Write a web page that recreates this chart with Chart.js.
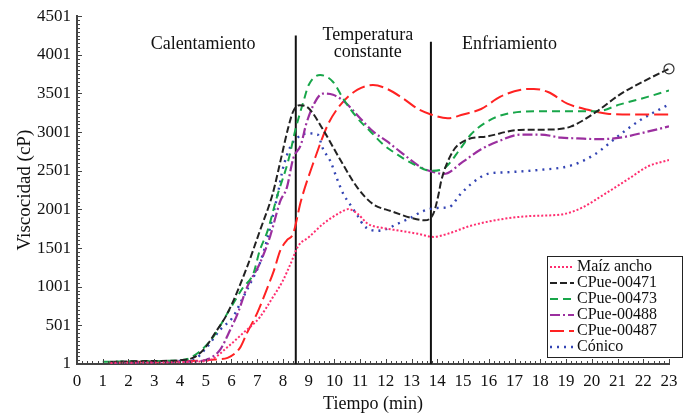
<!DOCTYPE html>
<html lang="es">
<head>
    <meta charset="UTF-8">
    <title>Viscocidad vs tiempo</title>
    <script src="https://cdn.jsdelivr.net/npm/chart.js"></script>
    <style>
        body {
            margin: 0;
            background: #fff;
        }

        .chart-box {
            width: 688px;
            height: 419px;
        }
    </style>
</head>
<body>
    <div class="chart-box">
        <canvas id="viscChart"></canvas>
    </div>

    <script>
        // valores (tiempo en min, viscosidad en cP)
        const seriesNames = ['Maíz ancho', 'CPue-00471', 'CPue-00473', 'CPue-00488', 'CPue-00487', 'Cónico'];

        const tMaiz = [1.3, 2, 3, 4, 4.6, 5.2, 5.85, 6.45, 7.1, 7.6, 8.0, 8.3, 8.6, 9.0, 9.55, 10.2, 10.55, 10.9, 11.3, 11.9, 12.55, 13.25, 13.85, 14.4, 15.3, 16.6, 17.6, 18.9, 19.6, 20.5, 21.4, 22.2, 23.0];
        const vMaiz = [15, 18, 20, 25, 30, 55, 220, 400, 605, 860, 1080, 1300, 1530, 1640, 1810, 1955, 2005, 1945, 1815, 1760, 1725, 1685, 1645, 1685, 1790, 1880, 1915, 1940, 2020, 2200, 2390, 2560, 2640];

        const t471 = [1.3, 2, 3, 4, 4.5, 4.9, 5.4, 5.85, 6.6, 7.1, 7.6, 7.9, 8.2, 8.4, 8.65, 9.0, 9.6, 10.2, 10.9, 11.5, 12.2, 13.0, 13.5, 13.85, 14.05, 14.15, 14.6, 15.0, 16.0, 17.2, 18.5, 19.2, 20.2, 21.1, 22.2, 23.0];
        const v471 = [30, 35, 40, 50, 80, 180, 420, 660, 1250, 1720, 2200, 2620, 3050, 3270, 3350, 3310, 3010, 2660, 2280, 2070, 1980, 1890, 1860, 1950, 2200, 2370, 2750, 2880, 2950, 3030, 3035, 3075, 3270, 3490, 3690, 3820];

        const t473 = [1.0, 2, 3, 4, 4.4, 5.2, 5.85, 6.45, 6.85, 7.1, 7.4, 7.8, 8.2, 8.5, 8.8, 9.0, 9.45, 9.95, 10.35, 10.9, 11.4, 11.9, 12.45, 13.05, 13.75, 14.25, 14.9, 15.3, 15.95, 16.6, 17.9, 19.2, 20.2, 21.1, 22.2, 23.0];
        const v473 = [30, 35, 40, 50, 80, 310, 660, 990, 1170, 1470, 1720, 2200, 2620, 3050, 3400, 3610, 3740, 3650, 3430, 3180, 3010, 2840, 2710, 2590, 2500, 2530, 2790, 2970, 3140, 3230, 3270, 3270, 3270, 3360, 3460, 3540];

        const t488 = [1.3, 2, 3, 4, 4.6, 5.05, 5.55, 5.95, 6.25, 6.6, 7.1, 7.5, 7.9, 8.15, 8.4, 8.7, 8.9, 9.2, 9.55, 9.95, 10.5, 11.0, 11.5, 12.05, 12.55, 13.45, 13.75, 14.25, 15.0, 15.7, 16.35, 17.25, 18.0, 18.8, 19.45, 20.25, 21.1, 22.2, 23.0];
        const v488 = [20, 22, 25, 30, 35, 60, 180, 440, 660, 990, 1300, 1650, 2110, 2280, 2660, 2840, 3100, 3360, 3500, 3485, 3360, 3180, 3010, 2880, 2750, 2530, 2495, 2460, 2620, 2780, 2880, 2970, 2970, 2930, 2920, 2910, 2930, 3010, 3075];

        const t487 = [1.2, 2, 3, 4, 4.8, 5.4, 5.85, 6.35, 6.6, 7.0, 7.4, 7.65, 7.9, 8.15, 8.4, 8.7, 9.2, 9.75, 10.25, 10.9, 11.5, 12.05, 12.7, 13.25, 13.75, 14.4, 15.0, 15.7, 16.45, 17.25, 17.75, 18.3, 19.05, 19.85, 20.6, 21.6, 23.0];
        const v487 = [25, 28, 30, 35, 45, 60, 80, 220, 400, 660, 990, 1210, 1470, 1600, 1690, 2110, 2620, 3100, 3360, 3550, 3610, 3560, 3430, 3300, 3230, 3180, 3230, 3300, 3460, 3550, 3560, 3520, 3370, 3290, 3240, 3230, 3230];

        const tConico = [1.5, 2, 3, 4, 4.5, 5.05, 5.55, 6.05, 6.45, 6.85, 7.1, 7.4, 7.8, 8.0, 8.3, 8.5, 8.95, 9.35, 9.55, 9.85, 10.1, 10.35, 10.6, 10.9, 11.15, 11.65, 12.05, 12.45, 12.95, 13.45, 14.0, 14.45, 14.9, 15.35, 15.95, 16.6, 17.9, 19.2, 20.1, 21.1, 21.9, 23.0];
        const vConico = [20, 25, 30, 40, 52, 220, 440, 605, 860, 1120, 1300, 1630, 2200, 2530, 2820, 2910, 2985, 2970, 2790, 2620, 2400, 2200, 2070, 1920, 1790, 1725, 1750, 1815, 1890, 1980, 2020, 2030, 2200, 2340, 2460, 2480, 2510, 2570, 2710, 2970, 3160, 3360];

        // etapas del proceso
        const phaseX = [8.5, 13.75];
        const phaseTop = [4250, 4170];
        const phaseLabels = [['Calentamiento'], ['Temperatura', 'constante'], ['Enfriamiento']];
        const phaseLabelX = [4.9, 11.3, 16.8];

        const yTicks = [1, 501, 1001, 1501, 2001, 2501, 3001, 3501, 4001, 4501];

        const serif = "'Liberation Serif', 'Times New Roman', serif";

        function pts(t, v) {
            return t.map((x, i) => ({ x: x, y: v[i] }));
        }

        const styles = [
            { color: '#ff2d6f', dash: [2, 2], width: 2 },
            { color: '#222222', dash: [7, 3], width: 2 },
            { color: '#18a64a', dash: [8, 5], width: 2 },
            { color: '#9b2f9f', dash: [10, 3, 2, 3], width: 2.2 },
            { color: '#ff2222', dash: [14, 5], width: 2 },
            { color: '#3344b3', dash: [2, 5], width: 2.4 }
        ];

        const seriesData = [
            pts(tMaiz, vMaiz), pts(t471, v471), pts(t473, v473),
            pts(t488, v488), pts(t487, v487), pts(tConico, vConico)
        ];

        const datasets = seriesData.map((d, i) => ({
            label: seriesNames[i],
            data: d,
            borderColor: styles[i].color,
            backgroundColor: 'transparent',
            borderDash: styles[i].dash,
            borderWidth: styles[i].width,
            cubicInterpolationMode: 'monotone',
            pointRadius: 0,
            fill: false
        }));

        // circulo al final de CPue-00471
        datasets[1].pointRadius = ctx => ctx.dataIndex === t471.length - 1 ? 5 : 0;
        datasets[1].pointBorderColor = '#333';
        datasets[1].pointBorderWidth = 1.2;
        datasets[1].pointBackgroundColor = 'transparent';
        datasets[1].clip = false;

        phaseX.forEach((x, i) => {
            datasets.push({
                label: '_phase' + i,
                data: [{ x: x, y: 1 }, { x: x, y: phaseTop[i] }],
                borderColor: '#111',
                borderWidth: 2,
                pointRadius: 0,
                fill: false
            });
        });

        const extras = {
            id: 'extras',
            afterDraw(chart) {
                const ctx = chart.ctx;
                const xs = chart.scales.x;
                const ys = chart.scales.y;
                const area = chart.chartArea;

                ctx.save();
                ctx.strokeStyle = '#444';
                ctx.lineWidth = 1;

                // marcas menores y mayores hacia adentro
                for (let v = 0; v <= 23.001; v += 0.2) {
                    const px = Math.round(xs.getPixelForValue(v)) + 0.5;
                    const major = Math.abs(v - Math.round(v)) < 0.01;
                    ctx.beginPath();
                    ctx.moveTo(px, area.bottom);
                    ctx.lineTo(px, area.bottom - (major ? 5 : 3));
                    ctx.stroke();
                }
                for (let v = 1; v <= 4501; v += 50) {
                    const py = Math.round(ys.getPixelForValue(v)) + 0.5;
                    const major = (v - 1) % 500 === 0;
                    ctx.beginPath();
                    ctx.moveTo(area.left, py);
                    ctx.lineTo(area.left + (major ? 5 : 3), py);
                    ctx.stroke();
                }

                // textos de las etapas
                ctx.fillStyle = '#111';
                ctx.font = '18px ' + serif;
                ctx.textAlign = 'center';
                ctx.textBaseline = 'middle';
                phaseLabels.forEach((lines, i) => {
                    const px = xs.getPixelForValue(phaseLabelX[i]);
                    const y0 = lines.length > 1 ? 35 : 44;
                    lines.forEach((s, j) => ctx.fillText(s, px, y0 + j * 17));
                });

                // leyenda
                const bx = 547, by = 256, bw = 135, bh = 101;
                ctx.fillStyle = '#fff';
                ctx.fillRect(bx, by, bw, bh);
                ctx.strokeStyle = '#222';
                ctx.lineWidth = 1;
                ctx.strokeRect(bx + 0.5, by + 0.5, bw, bh);
                ctx.textAlign = 'left';
                ctx.font = '16px ' + serif;
                seriesNames.forEach((name, i) => {
                    const ds = chart.data.datasets[i];
                    const yy = by + 11 + i * 16;
                    ctx.save();
                    ctx.strokeStyle = ds.borderColor;
                    ctx.lineWidth = ds.borderWidth;
                    ctx.setLineDash(ds.borderDash);
                    ctx.beginPath();
                    ctx.moveTo(bx + 3, yy);
                    ctx.lineTo(bx + 27, yy);
                    ctx.stroke();
                    ctx.restore();
                    ctx.fillStyle = '#111';
                    ctx.fillText(name, bx + 30, yy);
                });
                ctx.restore();
            }
        };

        new Chart(document.getElementById('viscChart'), {
            type: 'line',
            data: { datasets },
            options: {
                responsive: true,
                maintainAspectRatio: false,
                animation: false,
                layout: {
                    padding: { left: 10, right: 19, top: 14, bottom: 0 }
                },
                plugins: {
                    legend: { display: false },
                    tooltip: { enabled: false }
                },
                scales: {
                    x: {
                        type: 'linear',
                        min: 0,
                        max: 23,
                        grid: { display: false, drawTicks: false },
                        border: { display: true, color: '#444', width: 2 },
                        ticks: {
                            stepSize: 1,
                            autoSkip: false,
                            maxRotation: 0,
                            padding: 7,
                            color: '#111',
                            font: { family: serif, size: 17 }
                        },
                        title: {
                            display: true,
                            text: 'Tiempo (min)',
                            color: '#111',
                            font: { family: serif, size: 18 }
                        },
                        afterFit(scale) { scale.height = 55; }
                    },
                    y: {
                        type: 'linear',
                        min: 1,
                        max: 4501,
                        grid: { display: false, drawTicks: false },
                        border: { display: true, color: '#444', width: 2 },
                        afterBuildTicks(scale) {
                            scale.ticks = yTicks.map(v => ({ value: v }));
                        },
                        ticks: {
                            padding: 6,
                            color: '#111',
                            font: { family: serif, size: 17 },
                            callback: v => String(v)
                        },
                        title: {
                            display: true,
                            text: 'Viscocidad (cP)',
                            color: '#111',
                            font: { family: serif, size: 19 }
                        },
                        afterFit(scale) { scale.width = 67; }
                    }
                }
            },
            plugins: [extras]
        });
    </script>
</body>
</html>
